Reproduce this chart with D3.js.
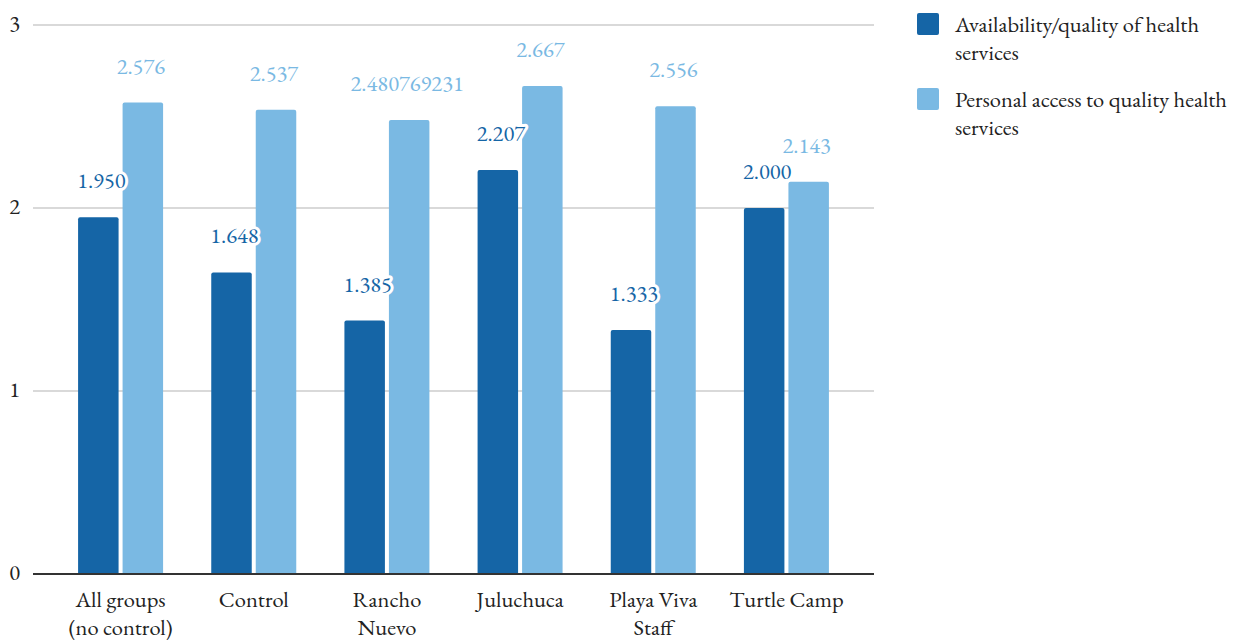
<!DOCTYPE html>
<html><head><meta charset="utf-8">
<script src="https://cdn.jsdelivr.net/npm/d3@7"></script>
<style>body{margin:0;background:#fff;}</style>
</head><body>
<svg id="c" width="1239" height="641"></svg>
<script>
const categories = [["All groups","(no control)"],["Control"],["Rancho","Nuevo"],["Juluchuca"],["Playa Viva","Staff"],["Turtle Camp"]];
const seriesNames = [["Availability/quality of health","services"],["Personal access to quality health","services"]];
const availability = [1.950, 1.648, 1.385, 2.207, 1.333, 2.000];
const availabilityLabels = ["1.950","1.648","1.385","2.207","1.333","2.000"];
const personal = [2.576, 2.537, 2.480769231, 2.667, 2.556, 2.143];
const personalLabels = ["2.576","2.537","2.480769231","2.667","2.556","2.143"];
const yTicks = [0,1,2,3];
const colors = ["#1565a6","#7ab9e3"];
const FONT = "'EB Garamond', 'Liberation Serif', serif";
const FS = 22.5;

const svg = d3.select("#c");
const y = d3.scaleLinear().domain([0,3]).range([574,25]);
const x0 = d3.scaleBand().domain(d3.range(categories.length)).range([54,853]).paddingInner(0).paddingOuter(0);
const x1 = d3.scaleBand().domain([0,1]).range([0,85]).paddingInner(0.09);
const groupOff = (x0.bandwidth()-85)/2;

svg.append("g").selectAll("line").data(yTicks.filter(t=>t>0)).join("line")
  .attr("x1",33).attr("x2",874).attr("y1",d=>y(d)).attr("y2",d=>y(d))
  .attr("stroke","#cccccc").attr("stroke-width",1.3);

svg.append("g").selectAll("text").data(yTicks).join("text")
  .attr("x",20).attr("y",d=>y(d)+6).attr("text-anchor","end")
  .style("font-family",FONT).attr("font-size",FS).attr("fill","#222").text(d=>d);

const series = [
  {vals: availability, labels: availabilityLabels, i:0},
  {vals: personal, labels: personalLabels, i:1}
];
function barPath(x,w,yt,yb,r){
  return `M${x},${yb}V${yt+r}Q${x},${yt} ${x+r},${yt}H${x+w-r}Q${x+w},${yt} ${x+w},${yt+r}V${yb}Z`;
}
series.forEach(s=>{
  svg.append("g").selectAll("path").data(s.vals).join("path")
    .attr("d",(d,j)=>barPath(x0(j)+groupOff+x1(s.i), x1.bandwidth(), y(d), y(0), 2))
    .attr("fill",colors[s.i]);
});

svg.append("line").attr("x1",33).attr("x2",874).attr("y1",y(0)).attr("y2",y(0))
  .attr("stroke","#333").attr("stroke-width",2);

series.forEach(s=>{
  const g = svg.append("g");
  const cx = j => x0(j)+groupOff+x1(s.i)+x1.bandwidth()/2 + (s.i===0?3:-2);
  if(s.i===0){
    g.selectAll("text.halo").data(s.vals).join("text").attr("class","halo")
      .attr("x",(d,j)=>cx(j)).attr("y",d=>y(d)-29).attr("text-anchor","middle")
      .style("font-family",FONT).attr("font-size",FS).attr("fill","none").attr("stroke","#fff").attr("stroke-width",6)
      .attr("stroke-linejoin","round")
      .text((d,j)=>s.labels[j]);
  }
  g.selectAll("text.lab").data(s.vals).join("text").attr("class","lab")
    .attr("x",(d,j)=>cx(j)).attr("y",d=>y(d)-29).attr("text-anchor","middle")
    .style("font-family",FONT).attr("font-size",FS).attr("fill",colors[s.i])
    .text((d,j)=>s.labels[j]);
});

const xl = svg.append("g");
categories.forEach((lines,j)=>{
  const t = xl.append("text").attr("x",x0(j)+x0.bandwidth()/2).attr("y",607)
    .attr("text-anchor","middle").style("font-family",FONT).attr("font-size",FS).attr("fill","#222");
  lines.forEach((l,k)=>t.append("tspan").attr("x",x0(j)+x0.bandwidth()/2).attr("dy",k===0?0:28).text(l));
});

const lg = svg.append("g");
seriesNames.forEach((lines,i)=>{
  const top = 13 + i*75;
  lg.append("rect").attr("x",917).attr("y",top).attr("width",22).attr("height",22).attr("rx",2).attr("fill",colors[i]);
  const t = lg.append("text").attr("x",955).attr("y",top+19).style("font-family",FONT).attr("font-size",FS).attr("fill","#222");
  lines.forEach((l,k)=>t.append("tspan").attr("x",955).attr("dy",k===0?0:28).text(l));
});
</script>
</body></html>
